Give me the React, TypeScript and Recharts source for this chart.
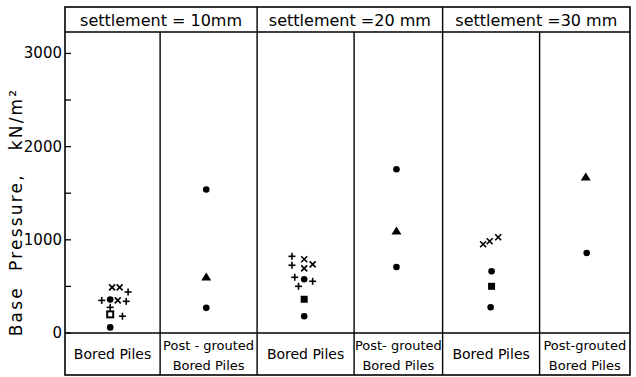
import { Customized, ReferenceLine, Scatter, ScatterChart, XAxis, YAxis } from 'recharts'

// column bounds (x units), one column per pile type / settlement
const columnEdges = [0, 1.01, 2.04, 3.07, 4.01, 5.04, 6]
const settlementLabels = ['settlement = 10mm', 'settlement =20 mm', 'settlement =30 mm']
const pileLabels = [
  ['Bored Piles'],
  ['Post - grouted', 'Bored Piles'],
  ['Bored Piles'],
  ['Post- grouted', 'Bored Piles'],
  ['Bored Piles'],
  ['Post-grouted', 'Bored Piles'],
]
const yTicks = [0, 500, 1000, 1500, 2000, 2500, 3000]

// base pressure, kN/m2, by marker type
const plusPoints = [
  { x: 0.67, y: 440 },
  { x: 0.39, y: 350 },
  { x: 0.65, y: 340 },
  { x: 0.48, y: 275 },
  { x: 0.61, y: 180 },
  { x: 2.41, y: 823 },
  { x: 2.41, y: 727 },
  { x: 2.44, y: 598 },
  { x: 2.63, y: 555 },
  { x: 2.48, y: 501 },
]
const crossPoints = [
  { x: 0.5, y: 490 },
  { x: 0.58, y: 490 },
  { x: 0.56, y: 350 },
  { x: 2.54, y: 791 },
  { x: 2.54, y: 694 },
  { x: 2.63, y: 737 },
  { x: 4.44, y: 952 },
  { x: 4.51, y: 984 },
  { x: 4.6, y: 1027 },
]
const dotPoints = [
  { x: 0.48, y: 360 },
  { x: 0.48, y: 60 },
  { x: 1.5, y: 1540 },
  { x: 1.5, y: 270 },
  { x: 2.54, y: 576 },
  { x: 2.54, y: 180 },
  { x: 3.52, y: 1757 },
  { x: 3.52, y: 708 },
  { x: 4.53, y: 662 },
  { x: 4.52, y: 276 },
  { x: 5.54, y: 858 },
]
const squarePoints = [
  { x: 2.54, y: 362 },
  { x: 4.53, y: 501 },
]
const openSquarePoints = [{ x: 0.48, y: 200 }]
const trianglePoints = [
  { x: 1.5, y: 600 },
  { x: 3.52, y: 1095 },
  { x: 5.53, y: 1674 },
]

const W = 636
const H = 377
const L = 65
const R = 630
const TOP = 7
const HEAD = 32
const BASE = 333
const BOT = 375
const FONT = '"DejaVu Sans", sans-serif'
const px = (u: number) => L + (u / 6) * (R - L)

const Plus = ({ cx, cy }: any) => (
  <g stroke="#000" strokeWidth={1.6}>
    <line x1={cx - 3.5} x2={cx + 3.5} y1={cy} y2={cy} />
    <line x1={cx} x2={cx} y1={cy - 3.5} y2={cy + 3.5} />
  </g>
)
const Cross = ({ cx, cy }: any) => (
  <g stroke="#000" strokeWidth={1.6}>
    <line x1={cx - 3} x2={cx + 3} y1={cy - 3} y2={cy + 3} />
    <line x1={cx - 3} x2={cx + 3} y1={cy + 3} y2={cy - 3} />
  </g>
)
const Dot = ({ cx, cy }: any) => <circle cx={cx} cy={cy} fill="#000" r={3.3} />
const Square = ({ cx, cy }: any) => (
  <rect fill="#000" height={7} width={7} x={cx - 3.5} y={cy - 3.5} />
)
const OpenSquare = ({ cx, cy }: any) => (
  <rect fill="#fff" height={6} stroke="#000" strokeWidth={2} width={6} x={cx - 3} y={cy - 3} />
)
const Triangle = ({ cx, cy }: any) => (
  <polygon fill="#000" points={`${cx},${cy - 4.5} ${cx + 5},${cy + 3.5} ${cx - 5},${cy + 3.5}`} />
)

const LeftTick = ({ y, payload }: any) => (
  <g>
    <line stroke="#000" strokeWidth={1.3} x1={L} x2={L + 6} y1={y} y2={y} />
    {payload.value % 1000 === 0 && (
      <text dy={5} fill="#000" fontFamily={FONT} fontSize={15} textAnchor="end" x={L - 3} y={y}>
        {payload.value}
      </text>
    )}
  </g>
)
const RightTick = ({ y }: any) => (
  <line stroke="#000" strokeWidth={1.3} x1={R - 6} x2={R} y1={y} y2={y} />
)

function Frame() {
  return (
    <g>
      <rect fill="none" height={BOT - TOP} stroke="#000" strokeWidth={1.6} width={R - L} x={L} y={TOP} />
      <line stroke="#000" strokeWidth={1.4} x1={L} x2={R} y1={HEAD} y2={HEAD} />
      <line stroke="#000" strokeWidth={1.4} x1={L} x2={R} y1={BASE} y2={BASE} />
      {[2, 4].map((i) => (
        <line key={i} stroke="#000" strokeWidth={1.4} x1={px(columnEdges[i])} x2={px(columnEdges[i])} y1={TOP} y2={HEAD} />
      ))}
      {columnEdges.slice(1, 6).map((e) => (
        <line key={e} stroke="#000" strokeWidth={1.4} x1={px(e)} x2={px(e)} y1={BASE} y2={BOT} />
      ))}
      {settlementLabels.map((s, i) => (
        <text
          key={s}
          fill="#000"
          fontFamily={FONT}
          fontSize={16}
          textAnchor="middle"
          x={(px(columnEdges[i * 2]) + px(columnEdges[i * 2 + 2])) / 2}
          y={26}
        >
          {s}
        </text>
      ))}
      {pileLabels.map((lines, i) => {
        const cx = (px(columnEdges[i]) + px(columnEdges[i + 1])) / 2
        return lines.map((t, j) => (
          <text
            key={`${i}-${j}`}
            fill="#000"
            fontFamily={FONT}
            fontSize={lines.length === 1 ? 14 : 13}
            textAnchor="middle"
            x={cx}
            y={lines.length === 1 ? 359 : 350 + j * 20}
          >
            {t}
          </text>
        ))
      })}
      <text
        fill="#000"
        fontFamily={FONT}
        fontSize={17}
        letterSpacing={2.2}
        textAnchor="middle"
        transform={`translate(22, 212) rotate(-90)`}
        style={{ whiteSpace: 'pre' }}
      >
        {'Base  Pressure,   kN/m²'}
      </text>
    </g>
  )
}

export default function App() {
  return (
    <div style={{ position: 'absolute', left: 0, top: 0, width: W, height: H, background: '#fff' }}>
      <ScatterChart height={H} margin={{ top: HEAD, right: 0, bottom: H - BASE, left: 0 }} width={W}>
        <XAxis dataKey="x" domain={[0, 6]} hide type="number" />
        <YAxis
          axisLine={false}
          dataKey="y"
          domain={[0, 3230]}
          tick={<LeftTick />}
          tickLine={false}
          ticks={yTicks}
          type="number"
          width={L}
          yAxisId="left"
        />
        <YAxis
          axisLine={false}
          domain={[0, 3230]}
          orientation="right"
          tick={<RightTick />}
          tickLine={false}
          ticks={yTicks.slice(1)}
          type="number"
          width={W - R}
          yAxisId="right"
        />
        {columnEdges.slice(1, 6).map((e) => (
          <ReferenceLine key={e} stroke="#000" strokeWidth={1.4} x={e} yAxisId="left" />
        ))}
        <Scatter data={plusPoints} isAnimationActive={false} shape={Plus} yAxisId="left" />
        <Scatter data={crossPoints} isAnimationActive={false} shape={Cross} yAxisId="left" />
        <Scatter data={dotPoints} isAnimationActive={false} shape={Dot} yAxisId="left" />
        <Scatter data={squarePoints} isAnimationActive={false} shape={Square} yAxisId="left" />
        <Scatter data={openSquarePoints} isAnimationActive={false} shape={OpenSquare} yAxisId="left" />
        <Scatter data={trianglePoints} isAnimationActive={false} shape={Triangle} yAxisId="left" />
        <Customized component={Frame} />
      </ScatterChart>
    </div>
  )
}
